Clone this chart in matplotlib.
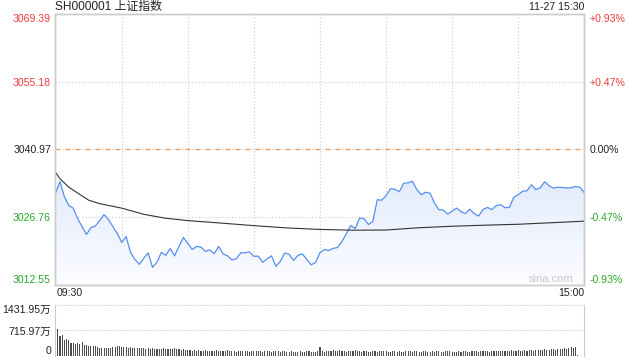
import matplotlib
matplotlib.use("Agg")
import matplotlib.pyplot as plt
import numpy as np
from matplotlib.colors import LinearSegmentedColormap
from matplotlib.patches import Polygon

plt.rcParams["font.family"] = ["Liberation Sans", "Noto Sans CJK SC", "DejaVu Sans"]

title = "SH000001 上证指数"
stamp = "11-27 15:30"
prev_close = 3040.97
price_ticks = [3012.55, 3026.76, 3040.97, 3055.18, 3069.39]
time_labels = ["09:30", "15:00"]
vol_ticks = [0, 715.97, 1431.95]
vol_tick_labels = ["0", "715.97万", "1431.95万"]

# minutes since 09:30 (lunch break removed), sampled every 2 minutes
price_minutes = list(range(0, 241, 2))
price = [
    3031.90, 3034.14, 3031.00, 3029.12, 3028.60, 3026.40, 3024.73, 3023.06, 3024.52, 3024.84,
    3025.98, 3027.24, 3026.19, 3024.73, 3023.27, 3021.39, 3022.64, 3019.30, 3017.83, 3016.79,
    3018.04, 3019.19, 3016.16, 3017.21, 3019.30, 3018.67, 3020.13, 3018.57, 3020.55, 3022.43,
    3021.18, 3019.92, 3020.55, 3020.40, 3019.51, 3019.82, 3019.03, 3020.55, 3018.98, 3018.57,
    3017.73, 3017.94, 3019.19, 3019.23, 3019.40, 3018.46, 3018.52, 3017.21, 3017.94, 3018.57,
    3016.37, 3017.42, 3019.19, 3018.88, 3017.62, 3018.67, 3018.98, 3017.83, 3016.68, 3017.21,
    3019.23, 3019.92, 3019.71, 3020.13, 3020.34, 3021.60, 3023.27, 3024.94, 3024.31, 3026.51,
    3026.40, 3025.15, 3025.78, 3030.37, 3030.27, 3031.21, 3032.67, 3032.57, 3032.05, 3033.82,
    3033.93, 3034.24, 3032.46, 3031.42, 3031.94, 3031.73, 3029.64, 3028.28, 3028.18, 3027.34,
    3027.97, 3028.60, 3027.87, 3027.45, 3028.39, 3027.45, 3026.93, 3028.28, 3028.76, 3028.28,
    3029.12, 3029.33, 3028.70, 3028.74, 3030.90, 3031.42, 3032.15, 3032.25, 3033.51, 3032.51,
    3032.88, 3034.14, 3033.30, 3032.82, 3032.99, 3032.94, 3032.82, 3032.88, 3033.15, 3032.99,
    3031.84,
]

avg_minutes = [0, 2, 6, 10, 15, 20, 30, 40, 50, 60, 75, 90, 105, 120, 135, 150, 165, 180,
               195, 210, 225, 240]
avg_price = [3036.08, 3034.76, 3032.99, 3031.77, 3030.27, 3029.54, 3028.60, 3027.30, 3026.47,
             3025.98, 3025.46, 3024.92, 3024.44, 3024.12, 3023.96, 3024.00, 3024.48, 3024.79,
             3025.02, 3025.21, 3025.53, 3025.86]

# volume per minute, in 万
volume = [
    1432, 758, 562, 590, 459, 487, 449, 365, 356, 337, 374, 328, 384, 309, 309, 290, 281, 281, 281, 262,
    215, 234, 225, 215, 234, 234, 262, 253, 281, 290, 253, 243, 253, 234, 243, 234, 234, 215, 234, 215,
    215, 197, 215, 187, 215, 197, 197, 187, 197, 215, 206, 206, 197, 187, 215, 197, 187, 168, 187, 178,
    159, 168, 150, 159, 140, 168, 150, 131, 159, 150, 140, 131, 150, 159, 140, 131, 150, 140, 168, 150,
    140, 131, 122, 140, 150, 131, 140, 150, 122, 131, 140, 131, 150, 140, 122, 131, 140, 131, 122, 140,
    131, 150, 122, 131, 140, 112, 122, 131, 103, 112, 122, 131, 112, 122, 140, 131, 112, 103, 122, 140,
    262,
    131, 122, 140, 131, 150, 168, 140, 131, 159, 150, 131, 122, 140, 131, 150, 168, 140, 131, 122, 140,
    131, 122, 112, 131, 140, 122, 131, 150, 140, 131, 122, 112, 131, 140, 122, 131, 112, 122, 131, 140,
    131, 122, 140, 131, 112, 122, 131, 140, 122, 112, 131, 122, 140, 131, 122, 112, 131, 140, 131, 122,
    112, 122, 131, 122, 140, 131, 112, 122, 131, 140, 131, 122, 131, 140, 150, 131, 122, 140, 131, 150,
    140, 131, 150, 140, 131, 150, 159, 140, 150, 159, 140, 150, 168, 150, 159, 168, 150, 178, 168, 159,
    178, 187, 168, 178, 197, 187, 178, 206, 187, 197, 215, 206, 225, 243, 215, 253,
    20, 8, 8, 356,
]

RED = "#f03c3c"
GREEN = "#2ba52b"
DARK = "#222222"
GRID = "#cccccc"
FS = 7.6

fig = plt.figure(figsize=(6.4, 3.6), dpi=100)
ax = fig.add_axes([0.0852, 0.2097, 0.8278, 0.7514])

xs = np.array(price_minutes)
ys = np.array(price)
lo, hi = price_ticks[0], price_ticks[-1]

# gradient fill under the price line
verts = np.column_stack([np.r_[xs[0], xs, xs[-1]], np.r_[lo, ys, lo]])
clip = Polygon(verts, closed=True, facecolor="none", edgecolor="none")
ax.add_patch(clip)
fade = LinearSegmentedColormap.from_list("fade", ["#fbfcff", "#e3ecfd"])
im = ax.imshow(np.linspace(0, 1, 100).reshape(-1, 1), cmap=fade, aspect="auto",
               origin="lower", extent=[xs[0], xs[-1], lo, ys.max()], zorder=1)
im.set_clip_path(clip)

ax.plot(xs, ys, color="#5590f0", lw=0.9, zorder=3)
ax.plot(avg_minutes, avg_price, color="#333333", lw=0.8, zorder=3)

ax.set_xlim(-0.5, 240)
ax.set_ylim(lo, hi)

for m in range(30, 240, 30):
    ax.axvline(m, color=GRID, lw=0.8, ls=(0, (1, 2)), zorder=0)
for v in (price_ticks[1], price_ticks[3]):
    ax.axhline(v, color=GRID, lw=0.8, ls=(0, (1, 2)), zorder=0)
ax.axhline(prev_close, color=GRID, lw=0.8, ls=(0, (1, 2)), zorder=0)
ax.axhline(prev_close, color="#f39c5a", lw=0.9, ls=(0, (4, 4)), zorder=2)

ax.set_xticks([])
ax.set_yticks(price_ticks)
ax.set_yticklabels([f"{v:.2f}" for v in price_ticks])
ax.tick_params(axis="y", length=0, pad=2.5, labelsize=FS)

ax2 = ax.twinx()
ax2.set_ylim(lo, hi)
ax2.set_yticks(price_ticks)
pct = [(v - prev_close) / prev_close * 100 for v in price_ticks]
ax2.set_yticklabels(["0.00%" if abs(p) < 0.005 else f"{p:+.2f}%" for p in pct])
ax2.tick_params(axis="y", length=0, pad=4, labelsize=FS)

for axis in (ax, ax2):
    labels = axis.get_yticklabels()
    for lab, v in zip(labels, price_ticks):
        lab.set_color(RED if v > prev_close else GREEN if v < prev_close else DARK)
    labels[0].set_va("bottom")
    labels[-1].set_va("top")
    for sp in axis.spines.values():
        sp.set_color(GRID)
        sp.set_linewidth(1)

# volume panel
axv = fig.add_axes([0.0852, 0.0111, 0.8278, 0.1417])
axv.bar(range(len(volume)), volume, width=0.5, color="#4d4d4d")
axv.set_xlim(-0.5, 240)
axv.set_ylim(0, vol_ticks[-1])
for v in vol_ticks[1:]:
    axv.axhline(v, color=GRID, lw=0.8, ls=(0, (1, 1)), clip_on=False, zorder=0)
axv.set_xticks([])
axv.set_yticks(vol_ticks)
axv.set_yticklabels(vol_tick_labels)
axv.tick_params(axis="y", length=0, pad=2.5, labelsize=FS, labelcolor=DARK)
vlabels = axv.get_yticklabels()
vlabels[0].set_va("bottom")
vlabels[-1].set_va("top")
for side in ("top", "bottom"):
    axv.spines[side].set_visible(False)
for side in ("left", "right"):
    axv.spines[side].set_color(GRID)

fig.text(55 / 640, 1 - 7 / 360, title, fontsize=8.6, color=DARK, va="center")
fig.text(584.3 / 640, 1 - 7 / 360, stamp, fontsize=FS, color=DARK, va="center", ha="right")
fig.text(57 / 640, 1 - 293 / 360, time_labels[0], fontsize=FS, color=DARK, va="center")
fig.text(584.3 / 640, 1 - 293 / 360, time_labels[1], fontsize=FS, color=DARK, va="center", ha="right")
fig.text(573 / 640, 1 - 279 / 360, "sina.com", fontsize=8, color="#c8c8c8", va="center", ha="right")

fig.savefig("out.png", dpi=100)
